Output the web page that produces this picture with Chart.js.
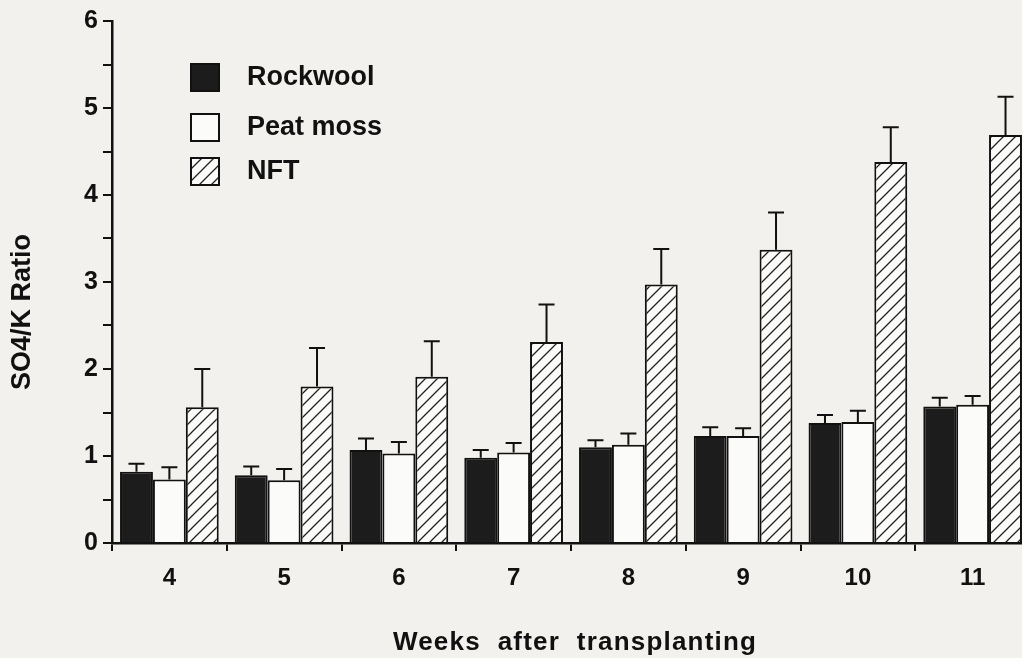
<!DOCTYPE html>
<html>
<head>
<meta charset="utf-8">
<script src="https://cdn.jsdelivr.net/npm/chart.js@4.4.0/dist/chart.umd.min.js"></script>
<style>
  html, body { margin: 0; padding: 0; background: #f3f1ed; overflow: hidden; }
  #wrap { width: 1036px; height: 658px; position: relative; }
</style>
</head>
<body>
<div id="wrap"><canvas id="ratioChart"></canvas></div>
<script>
const weeks = ['4', '5', '6', '7', '8', '9', '10', '11'];
const rockwool = [0.82, 0.78, 1.07, 0.98, 1.10, 1.23, 1.38, 1.57];
const peatMoss = [0.73, 0.72, 1.03, 1.04, 1.13, 1.23, 1.39, 1.59];
const nft = [1.56, 1.80, 1.91, 2.31, 2.97, 3.37, 4.38, 4.69];
const rockwoolErr = [0.09, 0.10, 0.13, 0.09, 0.08, 0.10, 0.09, 0.10];
const peatMossErr = [0.14, 0.13, 0.13, 0.11, 0.13, 0.09, 0.13, 0.10];
const nftErr = [0.44, 0.44, 0.41, 0.43, 0.41, 0.43, 0.40, 0.44];

const ctx = document.getElementById('ratioChart').getContext('2d');

// diagonal hatch for the NFT bars
function makeHatch() {
    const c = document.createElement('canvas');
    c.width = 12; c.height = 12;
    const g = c.getContext('2d');
    g.fillStyle = '#fbfbf9';
    g.fillRect(0, 0, 12, 12);
    g.strokeStyle = '#222';
    g.lineWidth = 1.3;
    g.beginPath();
    g.moveTo(0, 12); g.lineTo(12, 0);
    g.moveTo(-6, 6); g.lineTo(6, -6);
    g.moveTo(6, 18); g.lineTo(18, 6);
    g.stroke();
    return ctx.createPattern(c, 'repeat');
}
const hatch = makeHatch();

const errorBars = {
    id: 'errorBars',
    afterDatasetsDraw(chart) {
        const c = chart.ctx;
        const y = chart.scales.y;
        c.save();
        c.strokeStyle = '#111';
        c.lineWidth = 2;
        chart.data.datasets.forEach((ds, i) => {
            const meta = chart.getDatasetMeta(i);
            meta.data.forEach((bar, j) => {
                const top = y.getPixelForValue(ds.data[j] + ds.errors[j]);
                c.beginPath();
                c.moveTo(bar.x, bar.y);
                c.lineTo(bar.x, top);
                c.moveTo(bar.x - 8, top);
                c.lineTo(bar.x + 8, top);
                c.stroke();
            });
        });
        c.restore();
    }
};

const extras = {
    id: 'extras',
    afterDraw(chart) {
        const c = chart.ctx;
        c.save();
        c.fillStyle = '#111';
        // legend
        const rows = [77, 127, 171];
        c.font = 'bold 27px "Liberation Sans", Arial, sans-serif';
        c.textBaseline = 'middle';
        c.textAlign = 'left';
        chart.data.datasets.forEach((ds, i) => {
            c.fillStyle = ds.backgroundColor;
            c.fillRect(191, rows[i] - 13, 28, 27);
            c.strokeStyle = '#111';
            c.lineWidth = 2;
            c.strokeRect(191, rows[i] - 13, 28, 27);
            c.fillStyle = '#111';
            c.fillText(ds.label, 247, rows[i] + 1);
        });
        // axis titles
        c.textAlign = 'center';
        c.font = 'bold 26px "Liberation Sans", Arial, sans-serif';
        c.letterSpacing = '1.2px';
        c.fillText('Weeks  after  transplanting', 575, 643);
        c.letterSpacing = '0px';
        c.translate(23, 312);
        c.rotate(-Math.PI / 2);
        c.font = 'bold 27px "Liberation Sans", Arial, sans-serif';
        c.fillText('SO4/K Ratio', 0, 0);
        c.restore();
    }
};

const ratioChart = new Chart(ctx, {
    type: 'bar',
    data: {
        labels: weeks,
        datasets: [{
            label: 'Rockwool',
            data: rockwool,
            errors: rockwoolErr,
            backgroundColor: '#1c1c1c',
            borderColor: '#111',
            borderWidth: 2
        }, {
            label: 'Peat moss',
            data: peatMoss,
            errors: peatMossErr,
            backgroundColor: '#fbfbf9',
            borderColor: '#111',
            borderWidth: 2
        }, {
            label: 'NFT',
            data: nft,
            errors: nftErr,
            backgroundColor: hatch,
            borderColor: '#111',
            borderWidth: 2
        }]
    },
    options: {
        responsive: true,
        maintainAspectRatio: false,
        animation: false,
        layout: { padding: { left: 0, right: 6, top: 21, bottom: 0 } },
        datasets: {
            bar: { categoryPercentage: 0.86, barPercentage: 1.0 }
        },
        plugins: {
            legend: { display: false },
            tooltip: { enabled: false }
        },
        scales: {
            x: {
                afterFit(scale) { scale.height = 115; },
                grid: {
                    offset: true,
                    drawOnChartArea: false,
                    drawTicks: true,
                    tickLength: 8,
                    color: '#111',
                    lineWidth: 2
                },
                border: { display: true, color: '#111', width: 2.5 },
                ticks: {
                    color: '#111',
                    padding: 13,
                    font: { family: '"Liberation Sans", Arial, sans-serif', size: 24, weight: 'bold' }
                }
            },
            y: {
                min: 0,
                max: 6,
                afterFit(scale) { scale.width = 112; },
                grid: {
                    drawOnChartArea: false,
                    drawTicks: true,
                    tickLength: 9,
                    color: '#111',
                    lineWidth: 2
                },
                border: { display: true, color: '#111', width: 2.5 },
                ticks: {
                    stepSize: 0.5,
                    color: '#111',
                    padding: 5,
                    font: { family: '"Liberation Sans", Arial, sans-serif', size: 25, weight: 'bold' },
                    callback: v => Number.isInteger(v) ? v : ''
                }
            }
        }
    },
    plugins: [errorBars, extras]
});
</script>
</body>
</html>
